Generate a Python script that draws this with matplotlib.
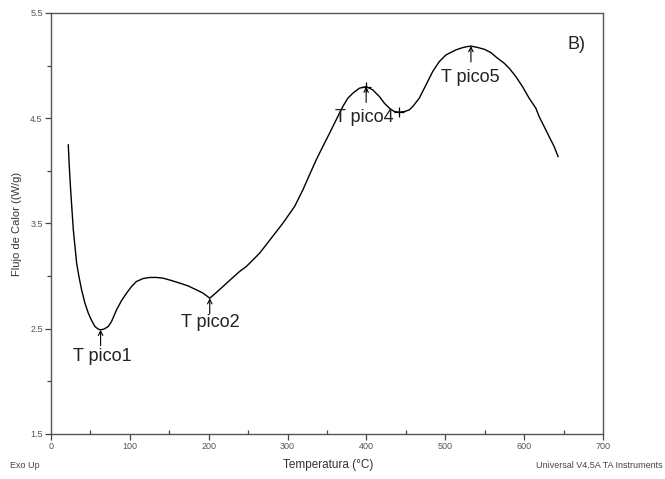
import matplotlib
matplotlib.use("Agg")
import matplotlib.pyplot as plt
from matplotlib.ticker import MultipleLocator

plt.rcParams['font.family'] = ['Liberation Sans', 'DejaVu Sans']

temperature = [21.9, 23.2, 24.9, 26.6, 28.3, 30.4, 32.5, 35.4, 38.8, 43.0, 47.3, 51.5,
               55.7, 59.9, 62.9, 67.1, 72.6, 76.8, 83.1, 89.5, 95.8, 102.1, 108.4, 116.9,
               125.3, 133.8, 142.2, 152.7, 163.3, 173.8, 184.4, 192.8, 201.3, 209.7, 218.1,
               228.7, 239.2, 247.7, 264.6, 279.3, 294.1, 308.9, 319.4, 327.8, 336.3, 344.7,
               353.2, 361.6, 370.0, 376.4, 382.7, 391.1, 399.6, 408.0, 416.5, 422.8, 429.1,
               435.4, 441.8, 448.1, 454.4, 458.6, 467.0, 475.5, 484.0, 492.4, 500.8, 513.5,
               521.0, 526.2, 532.5, 540.9, 549.4, 557.8, 566.2, 574.7, 581.0, 589.5, 597.9,
               606.3, 614.8, 619.0, 625.3, 631.6, 638.0, 643.0]
heat_flow = [4.246, 4.041, 3.819, 3.629, 3.439, 3.281, 3.123, 2.996, 2.869, 2.743, 2.648,
             2.578, 2.521, 2.496, 2.490, 2.496, 2.521, 2.569, 2.679, 2.768, 2.838, 2.901,
             2.949, 2.977, 2.987, 2.987, 2.980, 2.958, 2.933, 2.907, 2.869, 2.838, 2.790,
             2.844, 2.901, 2.974, 3.044, 3.091, 3.218, 3.360, 3.503, 3.661, 3.819, 3.962,
             4.104, 4.231, 4.357, 4.484, 4.610, 4.690, 4.737, 4.785, 4.800, 4.769, 4.705,
             4.642, 4.595, 4.563, 4.557, 4.563, 4.579, 4.610, 4.690, 4.816, 4.943, 5.038,
             5.101, 5.149, 5.168, 5.178, 5.185, 5.172, 5.155, 5.123, 5.070, 5.022, 4.975,
             4.895, 4.800, 4.690, 4.595, 4.516, 4.421, 4.326, 4.231, 4.136]

peak_labels = ["T pico1", "T pico2", "T pico4", "T pico5"]
peak_x = [62.9, 201.3, 399.6, 532.5]
peak_y = [2.49, 2.79, 4.80, 5.185]
label_x = [65, 202, 397.5, 531.6]
label_y = [2.233, 2.556, 4.503, 4.883]
cross_x = [399.6, 441.8]
cross_y = [4.80, 4.557]

fig = plt.figure(figsize=(6.65, 4.79), dpi=100)
ax = fig.add_axes([0.0767, 0.094, 0.8301, 0.879])
ax.plot(temperature, heat_flow, color='black', lw=1.0)
ax.plot(cross_x, cross_y, '+', color='black', ms=7, mew=0.9)

for lx, ly, px, py, t in zip(label_x, label_y, peak_x, peak_y, peak_labels):
    ax.annotate('', xy=(px, py), xytext=(px, py - 0.15),
                arrowprops=dict(arrowstyle='->', color='black', lw=0.8,
                                shrinkA=0, shrinkB=0, mutation_scale=8))
    ax.text(lx, ly, t, ha='center', va='center', fontsize=13, color='#222222')

ax.text(667, 5.196, "B)", ha='center', va='center', fontsize=13, color='#222222')

ax.set_xlim(0, 700)
ax.set_ylim(1.5, 5.5)
ax.xaxis.set_major_locator(MultipleLocator(100))
ax.xaxis.set_minor_locator(MultipleLocator(50))
ax.set_yticks([1.5, 2.5, 3.5, 4.5, 5.5])
ax.set_yticks([2.0, 3.0, 4.0, 5.0], minor=True)

for s in ax.spines.values():
    s.set_color('#555555')
    s.set_linewidth(1.0)
ax.tick_params(which='major', direction='out', length=4, width=0.9, color='#444444',
               labelsize=6.5, labelcolor='#555555', pad=2)
ax.tick_params(which='minor', direction='out', length=3, width=0.9, color='#444444')
ax.tick_params(axis='x', which='minor', direction='in')

ax.set_ylabel("Flujo de Calor ((W/g)", fontsize=8, color='#333333')
ax.yaxis.set_label_coords(-0.053, 0.5)
fig.text(0.494, 0.029, "Temperatura (°C)", ha='center', va='center', fontsize=8.5, color='#333333')
fig.text(0.015, 0.029, "Exo Up", ha='left', va='center', fontsize=6.5, color='#444444')
fig.text(0.997, 0.029, "Universal V4.5A TA Instruments", ha='right', va='center', fontsize=6.5, color='#444444')

fig.savefig("out.png", dpi=100)
